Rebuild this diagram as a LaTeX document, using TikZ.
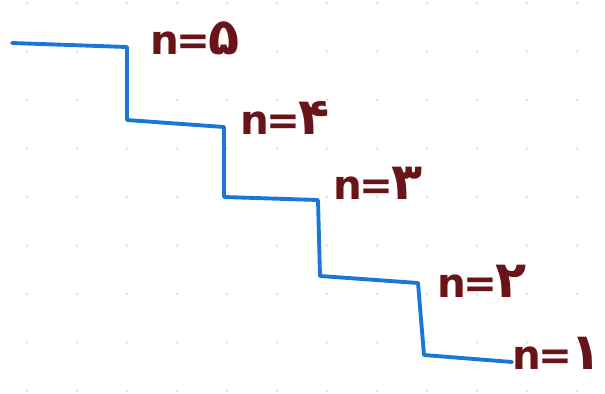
\documentclass[tikz,border=0pt]{standalone}
\usepackage{fontspec}
\setmainfont{DejaVu Sans}
\newfontfamily\arabicfont[Script=Arabic]{DejaVu Sans}
\usepackage{xcolor}
\usetikzlibrary{positioning}
\definecolor{stairblue}{RGB}{25,120,215}
\definecolor{inkred}{RGB}{105,20,25}
\newcommand{\lvltext}[1]{n\kern-1.5pt=\kern-1pt{\arabicfont\fontsize{29}{30}\selectfont #1}}
\tikzset{
  stair/.style={draw=stairblue,line width=2.2pt,line join=round,line cap=round},
  lvl/.style={text=inkred,font=\fontsize{23}{28}\selectfont\bfseries,inner sep=1pt},
  griddot/.style={fill=black!12,draw=none}
}
\begin{document}
\begin{tikzpicture}[x=0.02cm,y=-0.02cm]
\useasboundingbox[fill=white] (0,0) rectangle (605,393);
% faint dotted paper
\foreach \i in {0,...,11}
  \foreach \j in {0,...,8}
    \fill[griddot] (27+50*\i,3+48.5*\j) circle (1.3);
% corners of the staircase
\coordinate (s0) at (12,43);
\coordinate (a5) at (127,47);
\coordinate (b5) at (127,120);
\coordinate (a4) at (224,127);
\coordinate (b4) at (224,197);
\coordinate (a3) at (318,200);
\coordinate (b3) at (320,276);
\coordinate (a2) at (418,283);
\coordinate (b2) at (424,355);
\coordinate (a1) at (512,362);
\draw[stair] (s0) -- (a5) -- (b5) -- (a4) -- (b4) -- (a3) -- (b3) -- (a2) -- (b2) -- (a1);
% levels
\node[lvl] (n5) at (195,38) {\lvltext{۵}};
\node[lvl] (n4) at (285,118) {\lvltext{۴}};
\node[lvl] (n3) at (378,183) {\lvltext{۳}};
\node[lvl] (n2) at (482,281) {\lvltext{۲}};
\node[lvl] (n1) at (557,353) {\lvltext{۱}};
\end{tikzpicture}
\end{document}
